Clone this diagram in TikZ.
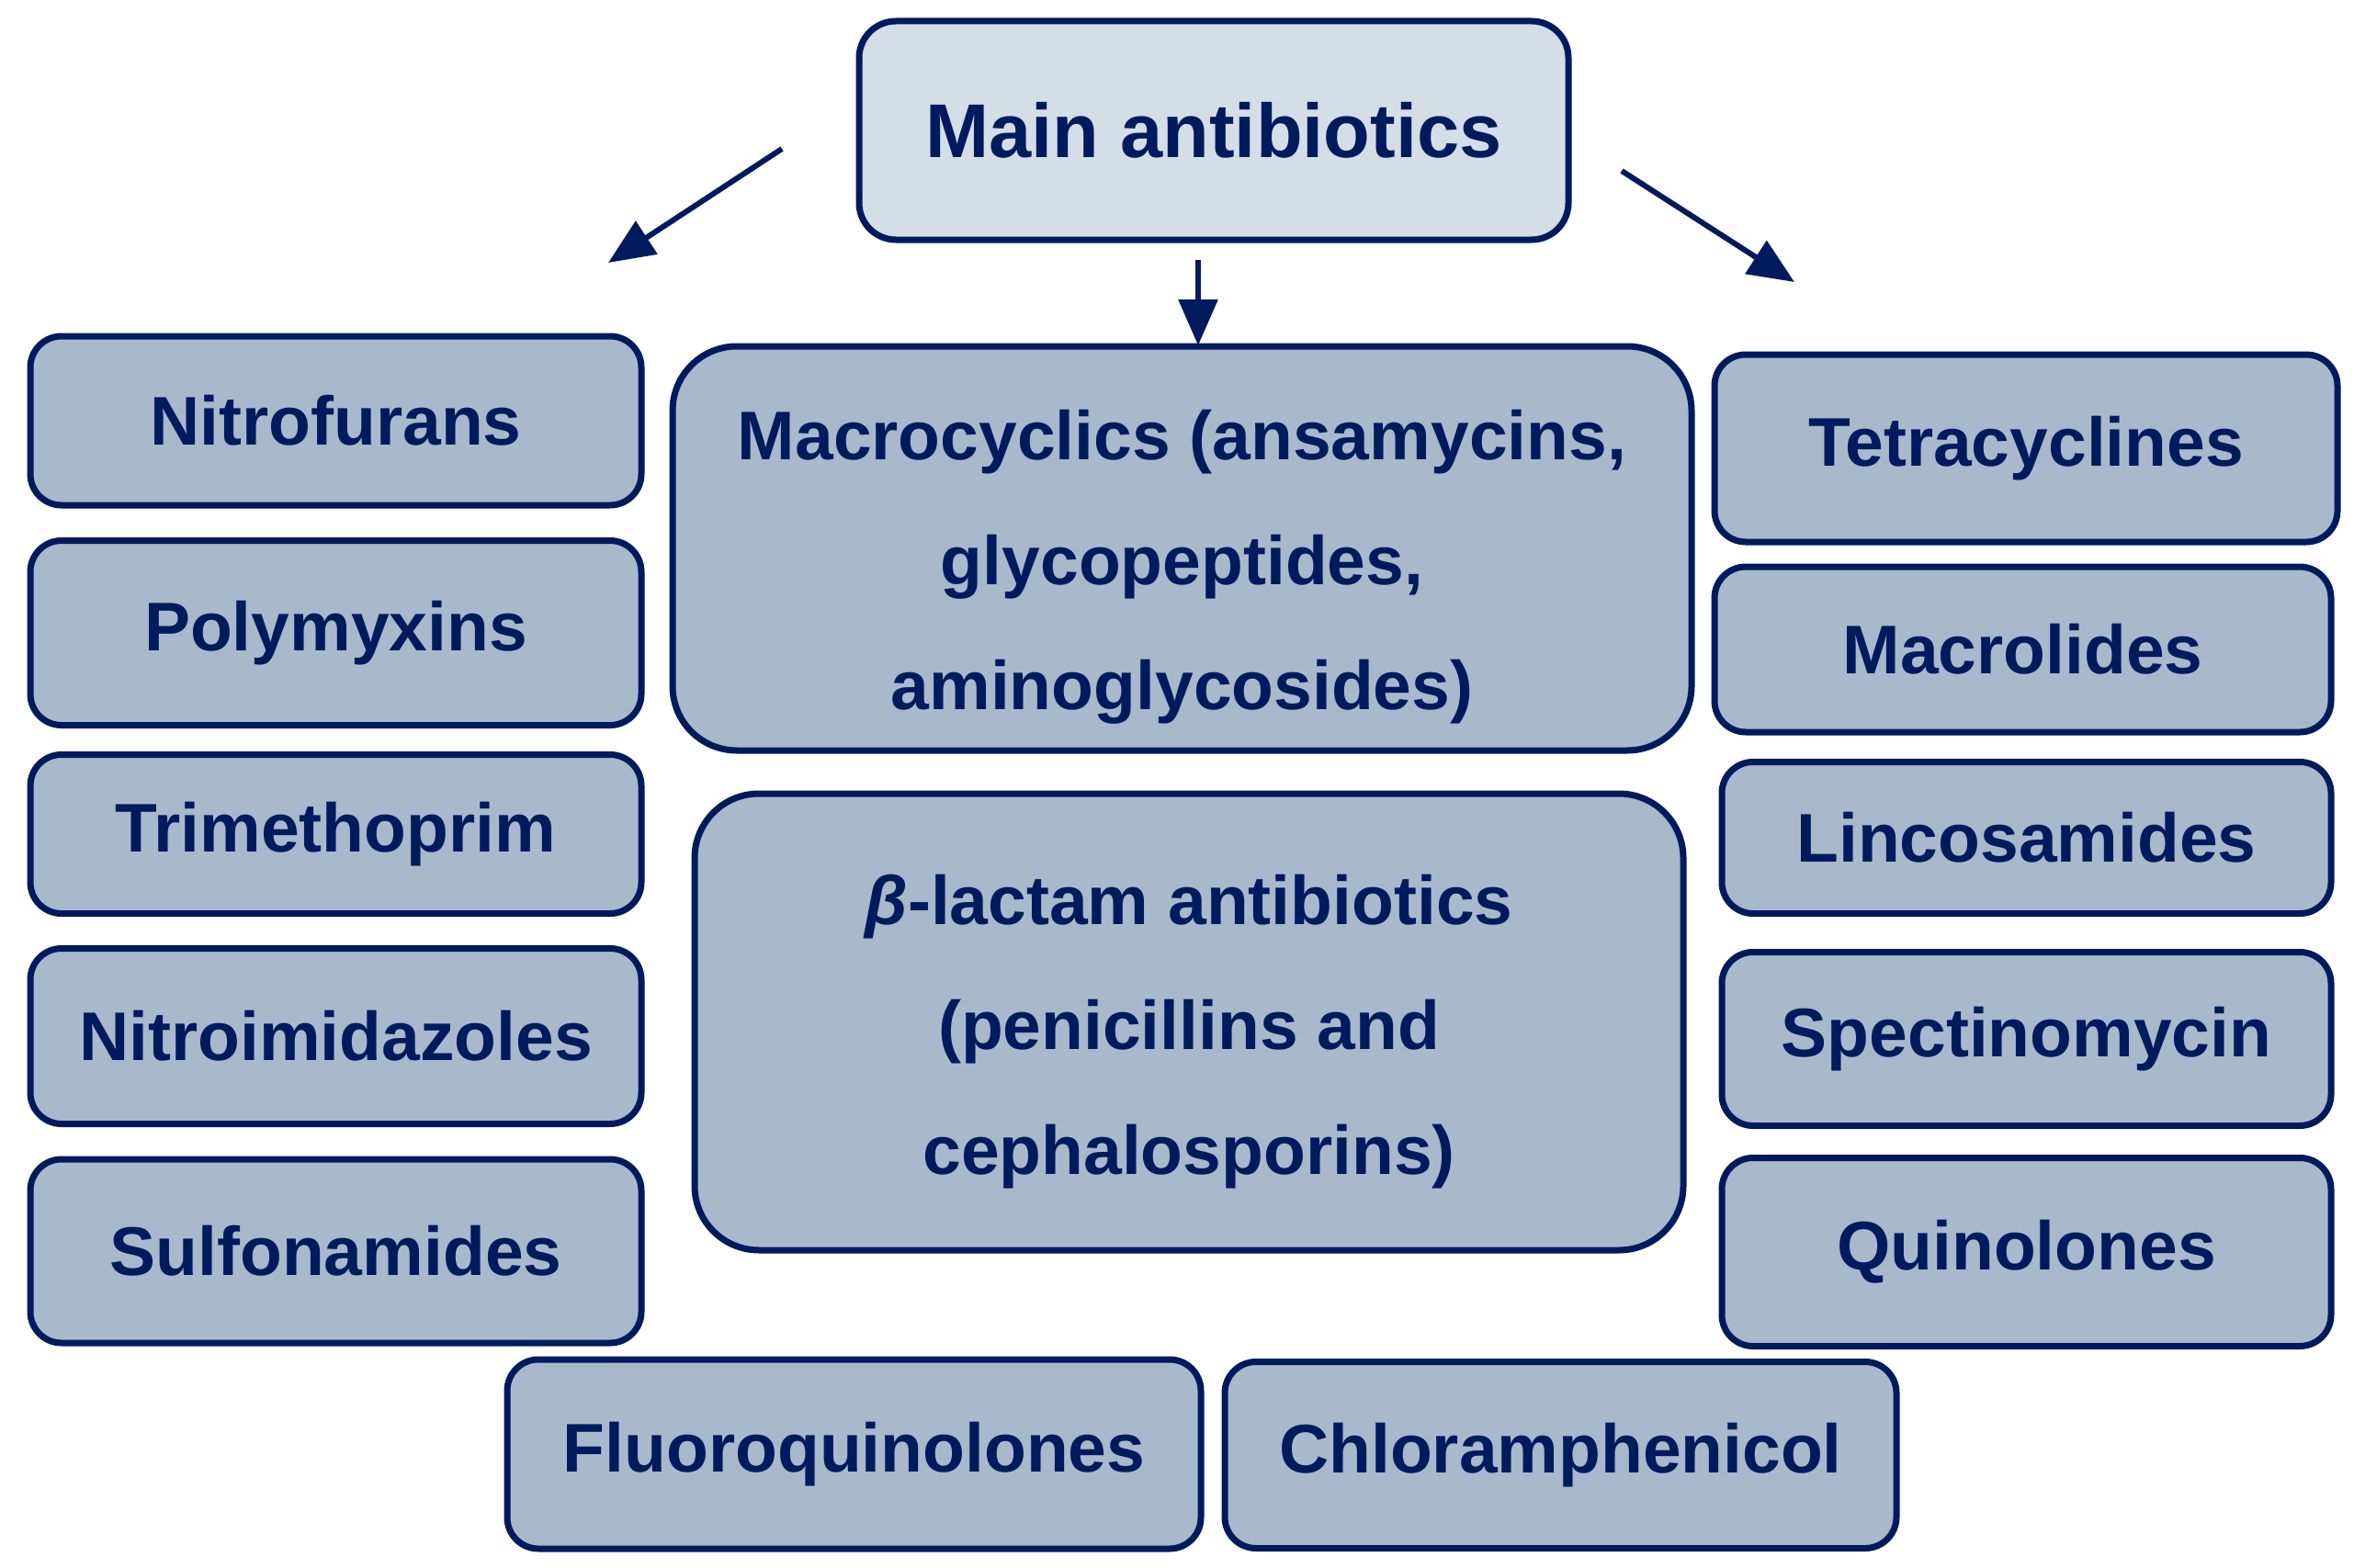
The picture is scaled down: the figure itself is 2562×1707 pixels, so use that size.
\documentclass[tikz,border=0pt]{standalone}
\usepackage{fontspec}
\setmainfont{Liberation Sans}
\usetikzlibrary{arrows.meta}
\definecolor{navy}{HTML}{001A5E}
\definecolor{boxfill}{HTML}{A9B9CC}
\definecolor{mainfill}{HTML}{D3DEE7}
\begin{document}
\begin{tikzpicture}[x=1pt,y=-1pt,
  box/.style={draw=navy,line width=7pt,fill=boxfill,rounded corners=34pt,text=navy,
    font=\fontsize{75}{136}\selectfont\bfseries,align=center,inner sep=0pt,outer sep=0pt},
  bigbox/.style={box,rounded corners=70pt},
  boxtext/.style={text=navy,font=\fontsize{75}{136}\selectfont\bfseries,align=center,inner sep=0pt},
  mainbox/.style={box,fill=mainfill,rounded corners=40pt,font=\fontsize{83}{100}\selectfont\bfseries},
  conn/.style={draw=navy,line width=6pt,-{Triangle[length=50pt,width=42pt]}}]
\useasboundingbox (0,0) rectangle (2562,1707);
% main
\node[mainbox,minimum width=772pt,minimum height=238pt] (main) at (1321,142) {Main antibiotics};
% left column
\node[box,minimum width=665pt,minimum height=184pt] (nitrofurans) at (365.5,458) {Nitrofurans};
\node[box,minimum width=665pt,minimum height=201pt] (polymyxins) at (365.5,689) {Polymyxins};
\node[box,minimum width=665pt,minimum height=173pt] (trimethoprim) at (365.5,908) {Trimethoprim};
\node[box,minimum width=665pt,minimum height=191pt] (nitroimid) at (365.5,1128) {Nitroimidazoles};
\node[box,minimum width=665pt,minimum height=200pt] (sulfon) at (365.5,1362) {Sulfonamides};
% center
\node[bigbox,minimum width=1109pt,minimum height=440pt] (macro) at (1286.5,597) {};
\node[boxtext] (macrotext) at (1286.5,617) {Macrocyclics (ansamycins,\\glycopeptides,\\aminoglycosides)};
\node[bigbox,minimum width=1076pt,minimum height=497pt] (beta) at (1294,1112.5) {};
\node[boxtext] (betatext) at (1294,1123) {\textit{β}-lactam antibiotics\\(penicillins and\\cephalosporins)};
% right column
\node[box,minimum width=678pt,minimum height=204pt] (tetra) at (2205,488) {Tetracyclines};
\node[box,minimum width=671pt,minimum height=180pt] (macrolides) at (2201.5,707) {Macrolides};
\node[box,minimum width=663pt,minimum height=165pt] (linco) at (2205.5,912) {Lincosamides};
\node[box,minimum width=663pt,minimum height=189pt] (spectino) at (2205.5,1131) {Spectinomycin};
\node[box,minimum width=663pt,minimum height=205pt] (quino) at (2205.5,1363) {Quinolones};
% bottom
\node[box,minimum width=755pt,minimum height=206pt] (fluoro) at (929.5,1583) {Fluoroquinolones};
\node[box,minimum width=731pt,minimum height=203pt] (chloram) at (1698.5,1584) {Chloramphenicol};
% arrows
\coordinate (a1s) at (851,162);
\coordinate (a1e) at (662,286);
\coordinate (a2s) at (1304,283);
\coordinate (a2e) at (1304,376);
\coordinate (a3s) at (1765,186);
\coordinate (a3e) at (1953,307);
\draw[conn] (a1s) -- (a1e);
\draw[conn] (a2s) -- (a2e);
\draw[conn] (a3s) -- (a3e);
\end{tikzpicture}
\end{document}
